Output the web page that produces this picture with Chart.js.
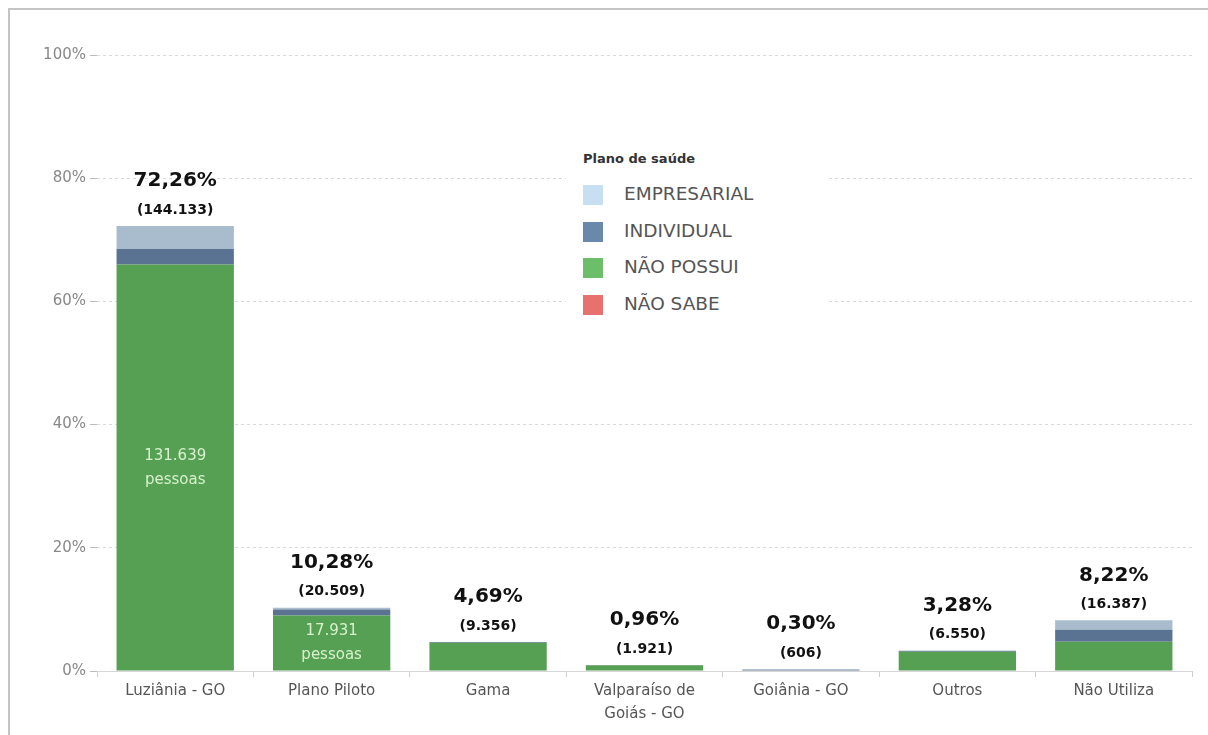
<!DOCTYPE html>
<html>
<head>
<meta charset="utf-8">
<script src="https://cdn.jsdelivr.net/npm/chart.js@4.4.1/dist/chart.umd.min.js"></script>
<style>
  html, body { margin: 0; background: #fff; overflow: hidden; font-family: "DejaVu Sans", sans-serif; }
  #wrap { position: relative; width: 1208px; height: 735px; overflow: hidden; }
  #chart { display: block; }
  #frame { position: absolute; left: 8px; top: 8px; width: 1300px; height: 800px;
           border-top: 2px solid #c4c4c4; border-left: 2px solid #c4c4c4; pointer-events: none; }
  #legend { position: absolute; left: 566px; top: 146px; width: 262px; height: 176px; background: #fff; }
  #legend .title { position: absolute; left: 17px; top: 5px; font-size: 13px; font-weight: bold; color: #333; }
  #legend .item { position: absolute; left: 17px; height: 20px; }
  #legend .sw { position: absolute; left: 0; top: 0; width: 20px; height: 20px; }
  #legend .lbl { position: absolute; left: 41px; top: -2px; font-size: 18.5px; color: #555; white-space: nowrap; }
</style>
</head>
<body>
<div id="wrap">
  <canvas id="chart" width="1208" height="735"></canvas>
  <div id="legend"></div>
  <div id="frame"></div>
</div>
<script>
// --- Data (percent of all people) ---
const categories = ['Luziânia - GO', 'Plano Piloto', 'Gama', ['Valparaíso de', 'Goiás - GO'], 'Goiânia - GO', 'Outros', 'Não Utiliza'];
const naoPossui   = [66.00, 8.99, 4.60, 0.90, 0.10, 3.13, 4.75];
const individual  = [2.50, 0.99, 0.09, 0.06, 0.12, 0.15, 1.95];
const empresarial = [3.76, 0.30, 0.00, 0.00, 0.08, 0.00, 1.52];
const naoSabe     = [0, 0, 0, 0, 0, 0, 0];
const totalLabels = ['72,26%', '10,28%', '4,69%', '0,96%', '0,30%', '3,28%', '8,22%'];
const countLabels = ['(144.133)', '(20.509)', '(9.356)', '(1.921)', '(606)', '(6.550)', '(16.387)'];
const innerLabels = ['131.639', '17.931', null, null, null, null, null];
const yTicks = [0, 20, 40, 60, 80, 100];

const legendItems = [
    { name: 'EMPRESARIAL', color: '#c8dff2' },
    { name: 'INDIVIDUAL', color: '#6a89aa' },
    { name: 'NÃO POSSUI', color: '#6cbe68' },
    { name: 'NÃO SABE', color: '#e6716e' }
];

const FONT = '"DejaVu Sans", sans-serif';

// --- Legend (html box on top of the chart) ---
const legendEl = document.getElementById('legend');
legendEl.innerHTML = '<div class="title">Plano de saúde</div>' + legendItems.map((it, i) =>
    `<div class="item" style="top:${39 + i * 36.5}px"><div class="sw" style="background:${it.color}"></div><div class="lbl">${it.name}</div></div>`
).join('');

// --- Labels above / inside bars ---
const barLabels = {
    id: 'barLabels',
    afterDatasetsDraw(chart) {
        const ctx = chart.ctx;
        const y = chart.scales.y;
        const meta0 = chart.getDatasetMeta(0);
        ctx.save();
        ctx.textAlign = 'center';
        ctx.textBaseline = 'middle';
        meta0.data.forEach((bar, i) => {
            const sum = naoPossui[i] + individual[i] + empresarial[i] + naoSabe[i];
            const top = y.getPixelForValue(sum);
            ctx.fillStyle = '#111';
            ctx.font = 'bold 20px ' + FONT;
            ctx.fillText(totalLabels[i], bar.x, top - 45);
            ctx.font = 'bold 14px ' + FONT;
            ctx.fillText(countLabels[i], bar.x, top - 16);
            if (innerLabels[i]) {
                const mid = (y.getPixelForValue(0) + y.getPixelForValue(naoPossui[i])) / 2;
                ctx.fillStyle = '#d9f0cf';
                ctx.font = '15px ' + FONT;
                ctx.fillText(innerLabels[i], bar.x, mid - 12);
                ctx.fillText('pessoas', bar.x, mid + 12);
            }
        });
        ctx.restore();
    }
};

new Chart(document.getElementById('chart'), {
    type: 'bar',
    data: {
        labels: categories,
        datasets: [
            { label: 'NÃO POSSUI', data: naoPossui, backgroundColor: '#55a052' },
            { label: 'INDIVIDUAL', data: individual, backgroundColor: '#5b7392' },
            { label: 'EMPRESARIAL', data: empresarial, backgroundColor: '#a8bccd' },
            { label: 'NÃO SABE', data: naoSabe, backgroundColor: '#e15759' }
        ]
    },
    options: {
        responsive: false,
        animation: false,
        layout: { padding: { top: 55, right: 16, left: 0, bottom: 0 } },
        datasets: { bar: { categoryPercentage: 1, barPercentage: 0.75 } },
        scales: {
            x: {
                stacked: true,
                grid: { offset: true, drawOnChartArea: false, color: '#cfcfcf', tickLength: 6 },
                border: { color: '#d6d6d6', dash: [4, 2] },
                ticks: { color: '#555', font: { size: 15, family: FONT, lineHeight: 1.53 }, padding: 3, maxRotation: 0, autoSkip: false },
                afterFit(scale) { scale.height = 64; }
            },
            y: {
                stacked: true,
                min: 0, max: 100,
                afterBuildTicks(scale) { scale.ticks = yTicks.map(v => ({ value: v })); },
                grid: { color: '#d9d9d9', lineWidth: 1, tickLength: 7, tickColor: '#bdbdbd' },
                border: { display: false, dash: [3, 3] },
                ticks: {
                    color: '#888', padding: 4,
                    font: { size: 15, family: FONT },
                    callback: v => v + '%'
                },
                afterFit(scale) { scale.width = 97; }
            }
        },
        plugins: {
            legend: { display: false },
            tooltip: { enabled: false }
        }
    },
    plugins: [barLabels]
});
</script>
</body>
</html>
